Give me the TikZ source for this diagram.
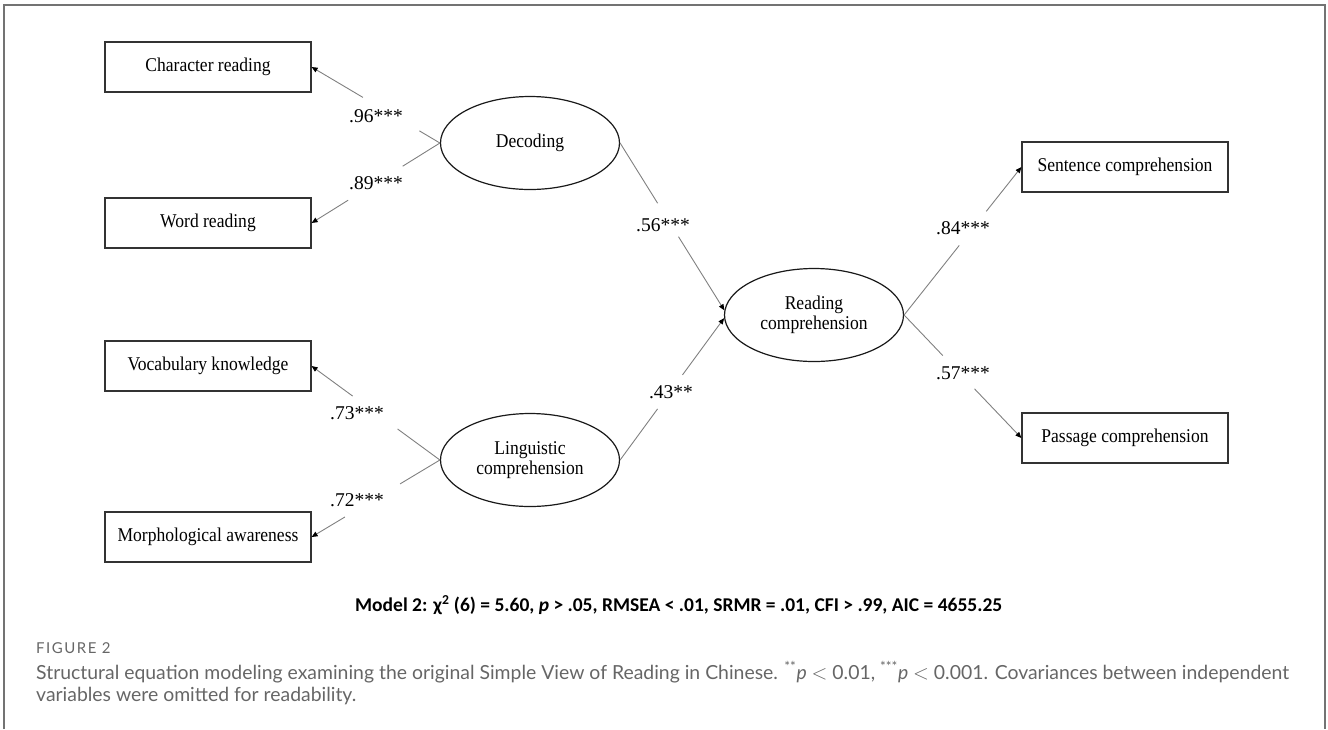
\documentclass[tikz,border=0pt]{standalone}
\usepackage{fontspec}
\setmainfont{Liberation Serif}
\newfontfamily\condfont[FakeStretch=0.9]{Liberation Serif}
\newfontfamily\calibfont{Carlito}
\newfontfamily\capfont{Lato}
\newfontfamily\figfont[LetterSpace=10]{Lato}
\usetikzlibrary{shapes.geometric,arrows.meta}
\begin{document}
\begin{tikzpicture}[x=1pt,y=-1pt,
  obs/.style={draw=black!80, line width=1.2pt, minimum width=206pt, minimum height=50pt, inner sep=0pt, font=\condfont\fontsize{19.5}{21}\selectfont},
  lat/.style={ellipse, draw=black!90, line width=1.2pt, minimum width=179pt, minimum height=93pt, inner sep=0pt, align=center, font=\condfont\fontsize{19.5}{20}\selectfont},
  conn/.style={draw=black!50, line width=0.9pt},
  tip/.style={conn, -{Triangle[length=6pt,width=5pt,color=black]}},
  coef/.style={inner sep=0pt, font=\fontsize{19.5}{22}\selectfont},
  captext/.style={anchor=west, inner sep=0pt, text=black!60, font=\capfont\fontsize{19.4}{24}\selectfont},
  frame/.style={draw=black!55, line width=1.5pt}
]
\useasboundingbox (0,0) rectangle (1328,729);
\draw[frame] (4,729) -- (4,5) -- (1325,5) -- (1325,729);

% observed variables
\node[obs] (cr) at (208,67) {Character reading};
\node[obs] (wr) at (208,223) {Word reading};
\node[obs] (vk) at (208,366) {Vocabulary knowledge};
\node[obs] (ma) at (208,537) {Morphological awareness};
\node[obs] (sc) at (1125,167) {Sentence comprehension};
\node[obs] (pc) at (1125,438) {Passage comprehension};

% latent variables
\node[lat] (dec) at (530,143) {Decoding};
\node[lat] (lc) at (530,460) {Linguistic\\comprehension};
\node[lat] (rc) at (814,315) {Reading\\comprehension};

% connectors with gaps for coefficients
\path (dec.west) -- (cr.east) coordinate[pos=0.16] (a1) coordinate[pos=0.6] (b1);
\draw[conn] (dec.west) -- (a1);
\draw[tip] (b1) -- (cr.east);

\path (dec.west) -- (wr.east) coordinate[pos=0.29] (a2) coordinate[pos=0.715] (b2);
\draw[conn] (dec.west) -- (a2);
\draw[tip] (b2) -- (wr.east);

\path (lc.west) -- (vk.east) coordinate[pos=0.33] (a3) coordinate[pos=0.68] (b3);
\draw[conn] (lc.west) -- (a3);
\draw[tip] (b3) -- (vk.east);

\path (lc.west) -- (ma.east) coordinate[pos=0.31] (a4) coordinate[pos=0.74] (b4);
\draw[conn] (lc.west) -- (a4);
\draw[tip] (b4) -- (ma.east);

\path (dec.east) -- (rc.177) coordinate[pos=0.36] (a5) coordinate[pos=0.56] (b5);
\draw[conn] (dec.east) -- (a5);
\draw[tip] (b5) -- (rc.177);

\path (lc.east) -- (rc.182) coordinate[pos=0.36] (a6) coordinate[pos=0.6] (b6);
\draw[conn] (lc.east) -- (a6);
\draw[tip] (b6) -- (rc.182);

\path (rc.east) -- (sc.west) coordinate[pos=0.47] (a7) coordinate[pos=0.70] (b7);
\draw[conn] (rc.east) -- (a7);
\draw[tip] (b7) -- (sc.west);

\path (rc.east) -- (pc.west) coordinate[pos=0.33] (a8) coordinate[pos=0.6] (b8);
\draw[conn] (rc.east) -- (a8);
\draw[tip] (b8) -- (pc.west);

% coefficients
\node[coef] (c1) at (376,116) {.96***};
\node[coef] (c2) at (376,183) {.89***};
\node[coef] (c3) at (357,413) {.73***};
\node[coef] (c4) at (357,500) {.72***};
\node[coef] (c5) at (663,225) {.56***};
\node[coef] (c6) at (671,392) {.43**};
\node[coef] (c7) at (963,228) {.84***};
\node[coef] (c8) at (963,373) {.57***};

% fit line
\node[anchor=west, inner sep=0pt, font=\calibfont\bfseries\fontsize{19.5}{22}\selectfont] (fit) at (355,605)
  {Model 2: χ\textsuperscript{2} (6) = 5.60, \textit{p} > .05, RMSEA < .01, SRMR = .01, CFI > .99, AIC = 4655.25};

% caption
\node[anchor=west, inner sep=0pt, text=black!60, font=\figfont\fontsize{15}{16}\selectfont] (figlab) at (36,648) {FIGURE 2};
\node[captext] (cap1) at (36,672)
  {Structural equation modeling examining the original Simple View of Reading in Chinese. \textsuperscript{**}\textit{p} \(<\) 0.01, \textsuperscript{***}\textit{p} \(<\) 0.001. Covariances between independent};
\node[captext] (cap2) at (36,696) {variables were omitted for readability.};
\end{tikzpicture}
\end{document}
